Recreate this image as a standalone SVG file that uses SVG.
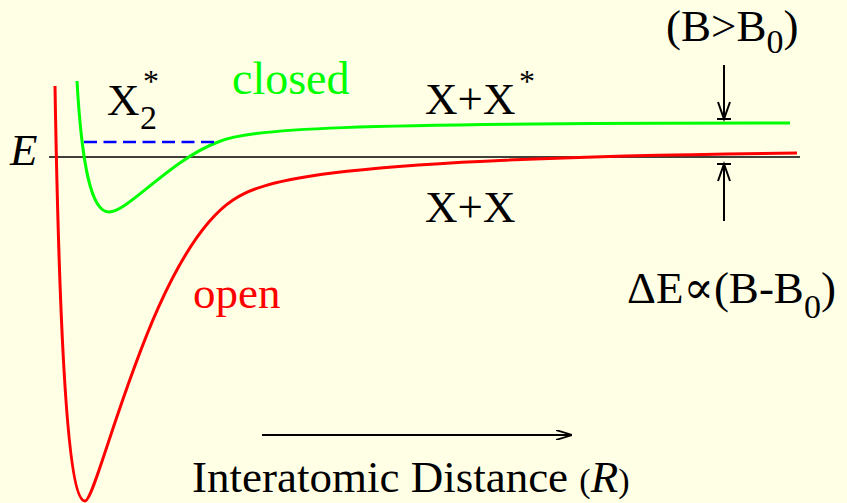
<svg xmlns="http://www.w3.org/2000/svg" width="847" height="503" viewBox="0 0 847 503">
<style>
text{font-size:45px;fill:#000}
.curve{fill:none;stroke-width:3}
.ln{fill:none;stroke:#000;stroke-width:2}
.sub{font-size:34px}
.ast{font-size:32px}
</style>
<defs>
<marker id="ah" viewBox="0 0 16 10" refX="16" refY="5" markerWidth="16" markerHeight="10" markerUnits="userSpaceOnUse" orient="auto">
<path d="M0,0 L16,5 L0,10" fill="none" stroke="#000" stroke-width="1.8"/>
</marker>
</defs>
<rect width="847" height="503" fill="#FFFFE6"/>
<g id="connectors">
<line id="energy-axis" x1="49" y1="157" x2="800" y2="157" stroke="#000" stroke-width="1.5"/>
<path id="open-curve" class="curve" stroke="#FF0000" d="M55,86 C60,380 70,501 85,501 C98,501 150,255 233,200 C262,181 320,158 797,153"/>
<path id="closed-curve" class="curve" stroke="#00FF00" d="M77,81 C82,170 92,212 109,212 C128,212 170,160 218,142 C250,129 330,123 790,123"/>
<line id="bound-level" x1="84" y1="142" x2="217" y2="142" stroke="#0000FF" stroke-width="2.5" stroke-dasharray="13,6.5"/>
<line id="r-axis" x1="262" y1="435" x2="572" y2="435" class="ln" marker-end="url(#ah)"/>
<g id="arrow-down">
<line x1="724" y1="65" x2="724" y2="119" class="ln"/>
<path d="M718,102 L724,119 L730,102" class="ln"/>
<line x1="717" y1="119" x2="731" y2="119" class="ln"/>
</g>
<g id="arrow-up">
<line x1="724" y1="164" x2="724" y2="221" class="ln"/>
<path d="M718,181 L724,164 L730,181" class="ln"/>
<line x1="717" y1="164" x2="731" y2="164" class="ln"/>
</g>
</g>
<g font-family="'Liberation Serif', 'DejaVu Serif', serif">
<g id="label-E"><text x="10" y="165" font-style="italic">E</text></g>
<g id="label-X2star"><text x="107" y="115">X<tspan class="sub" x="140" y="129">2</tspan><tspan class="ast" x="143" y="92">*</tspan></text></g>
<g id="label-closed"><text x="232" y="94" style="fill:#00FF00;font-size:46px">closed</text></g>
<g id="label-XXstar"><text x="425" y="114">X+X<tspan class="ast" x="519" y="92">*</tspan></text></g>
<g id="label-XX"><text x="425" y="222">X+X</text></g>
<g id="label-open"><text x="193" y="308" style="fill:#FF0000">open</text></g>
<g id="label-BgtB0"><text x="666" y="41">(B&gt;B<tspan class="sub" dy="12">0</tspan><tspan dy="-12">)</tspan></text></g>
<g id="label-dE"><text x="627" y="303">ΔE∝(B-B<tspan class="sub" dy="15">0</tspan><tspan dy="-15">)</tspan></text></g>
<g id="label-R"><text x="192" y="492">Interatomic Distance <tspan class="sub">(</tspan><tspan font-style="italic">R</tspan><tspan class="sub">)</tspan></text></g>
</g>
</svg>
